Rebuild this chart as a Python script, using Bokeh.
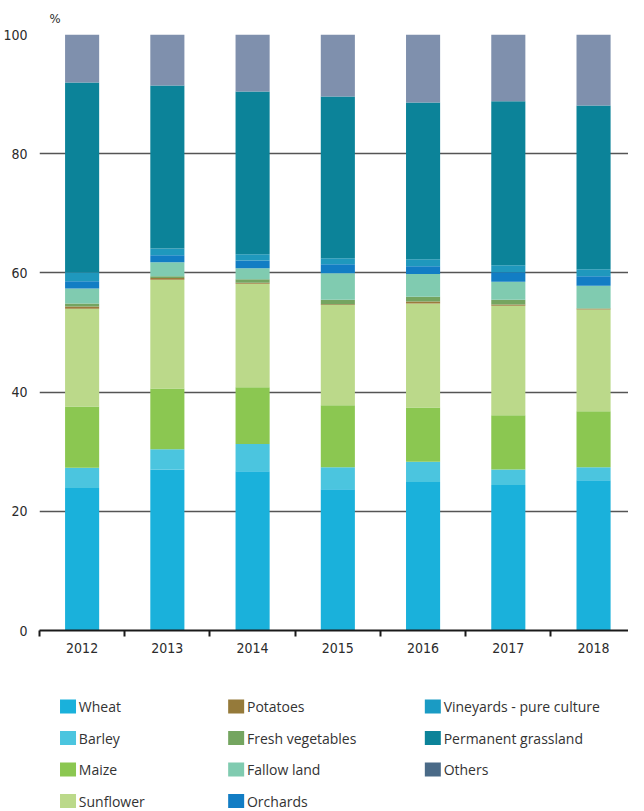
from bokeh.plotting import figure
from bokeh.layouts import column
from bokeh.models import ColumnDataSource, Range1d, FixedTicker, Title
from bokeh.core.properties import value
from bokeh.embed import file_html
from bokeh.resources import INLINE

years = [2012, 2013, 2014, 2015, 2016, 2017, 2018]
wheat = [23.9, 27.0, 26.7, 23.7, 24.9, 24.4, 25.2]
barley = [3.4, 3.4, 4.6, 3.7, 3.4, 2.6, 2.2]
maize = [10.3, 10.2, 9.5, 10.4, 9.1, 9.1, 9.4]
sunflower = [16.4, 18.25, 17.4, 16.8, 17.45, 18.4, 17.05]
potatoes = [0.35, 0.3, 0.15, 0.15, 0.35, 0.2, 0.15]
fresh_vegetables = [0.5, 0.3, 0.6, 0.75, 0.8, 0.8, 0.05]
fallow_land = [2.55, 2.35, 1.85, 4.45, 3.8, 3.0, 3.8]
orchards = [1.2, 1.15, 1.3, 1.5, 1.3, 1.6, 1.6]
vineyards = [1.5, 1.15, 1.05, 1.0, 1.2, 1.2, 1.15]
grassland = [31.85, 27.35, 27.3, 27.15, 26.3, 27.5, 27.5]
others = [8.05, 8.55, 9.55, 10.4, 11.4, 11.2, 11.9]

series_keys = ["wheat", "barley", "maize", "sunflower", "potatoes", "fresh", "fallow",
               "orchards", "vineyards", "grassland", "others"]
series_labels = ["Wheat", "Barley", "Maize", "Sunflower", "Potatoes", "Fresh vegetables",
                 "Fallow land", "Orchards", "Vineyards - pure culture", "Permanent grassland", "Others"]
bar_colors = ["#1ab1db", "#4bc5df", "#8bc751", "#bbd98a", "#9c7b3c", "#74a560", "#80cbb0",
              "#127dc4", "#1f98bd", "#0c8399", "#7f90ad"]
legend_colors = ["#1ab1db", "#4bc5df", "#8bc751", "#bbd98a", "#957a3a", "#74a560", "#80cbb0",
                 "#127dc4", "#1a9bc4", "#0c8399", "#4a6a87"]

source = ColumnDataSource(dict(
    year=years, wheat=wheat, barley=barley, maize=maize, sunflower=sunflower,
    potatoes=potatoes, fresh=fresh_vegetables, fallow=fallow_land, orchards=orchards,
    vineyards=vineyards, grassland=grassland, others=others))

TICK_FONT = "'Liberation Sans Narrow', 'DejaVu Sans Condensed', 'Roboto'"
W = 628
LEFT = 29
P_H = 669
L_H = 140

p = figure(width=W, height=P_H, output_backend="svg", toolbar_location=None,
           x_range=Range1d(years[0] - 0.5, years[0] + 6.41), y_range=Range1d(0, 100),
           min_border_left=LEFT, min_border_right=0, min_border_top=30, min_border_bottom=39)
p.outline_line_color = None

p.vbar_stack(series_keys, x="year", width=0.4, source=source,
             color=bar_colors, line_color=None)

p.yaxis.ticker = FixedTicker(ticks=[0, 20, 40, 60, 80, 100])
p.yaxis.axis_line_color = None
p.yaxis.major_tick_line_color = None
p.yaxis.minor_tick_line_color = None
p.yaxis.major_label_standoff = 6
p.yaxis.major_label_text_font = TICK_FONT
p.yaxis.major_label_text_font_size = "14px"
p.yaxis.major_label_text_color = "#2b2b2b"

p.xaxis.ticker = FixedTicker(ticks=years, minor_ticks=[y - 0.5 for y in years] + [years[-1] + 0.5])
p.xaxis.axis_line_color = "#1a1a1a"
p.xaxis.axis_line_width = 2
p.xaxis.major_tick_line_color = None
p.xaxis.minor_tick_line_color = "#1a1a1a"
p.xaxis.minor_tick_line_width = 2
p.xaxis.minor_tick_in = 0
p.xaxis.minor_tick_out = 6
p.xaxis.major_label_standoff = 6
p.xaxis.major_label_text_font = TICK_FONT
p.xaxis.major_label_text_font_size = "14px"
p.xaxis.major_label_text_color = "#2b2b2b"

p.xgrid.grid_line_color = None
p.ygrid.grid_line_color = "#555555"
p.ygrid.grid_line_width = 1.4

p.title = Title(text="%", align="left", offset=10, standoff=17, text_font=TICK_FONT,
                text_font_size="13px", text_font_style="normal", text_color="#2b2b2b")

# ---- legend panel (pixel layout, x in canvas pixels) ----
col_left = [50, 221, 421]
row_top = 37
row_step = 31.5
sw_w, sw_h = 16, 14
lx, ly, tx = [], [], []
for i in range(len(series_labels)):
    c, r = i // 4, i % 4
    lx.append(col_left[c] + sw_w / 2)
    ly.append(row_top + r * row_step)
    tx.append(col_left[c] + sw_w + 3)

lf = figure(width=W, height=L_H, output_backend="svg", toolbar_location=None,
            x_range=Range1d(LEFT, W), y_range=Range1d(L_H, 0),
            x_axis_location=None, y_axis_location=None,
            min_border_left=LEFT, min_border_right=0, min_border_top=0, min_border_bottom=0)
lf.outline_line_color = None
lf.xgrid.grid_line_color = None
lf.ygrid.grid_line_color = None

leg_src = ColumnDataSource(dict(x=lx, y=ly, tx=tx, color=legend_colors, label=series_labels))
lf.rect(x="x", y="y", width=sw_w, height=sw_h, width_units="screen", height_units="screen",
        fill_color="color", line_color=None, source=leg_src)
lf.text(x="tx", y="y", text="label", source=leg_src, text_font=value("Open Sans"),
        text_font_size="14px", text_color="#333333", text_baseline="middle", text_align="left")

layout = column(p, lf, spacing=0)
open("out.html", "w").write(file_html(layout, INLINE))
